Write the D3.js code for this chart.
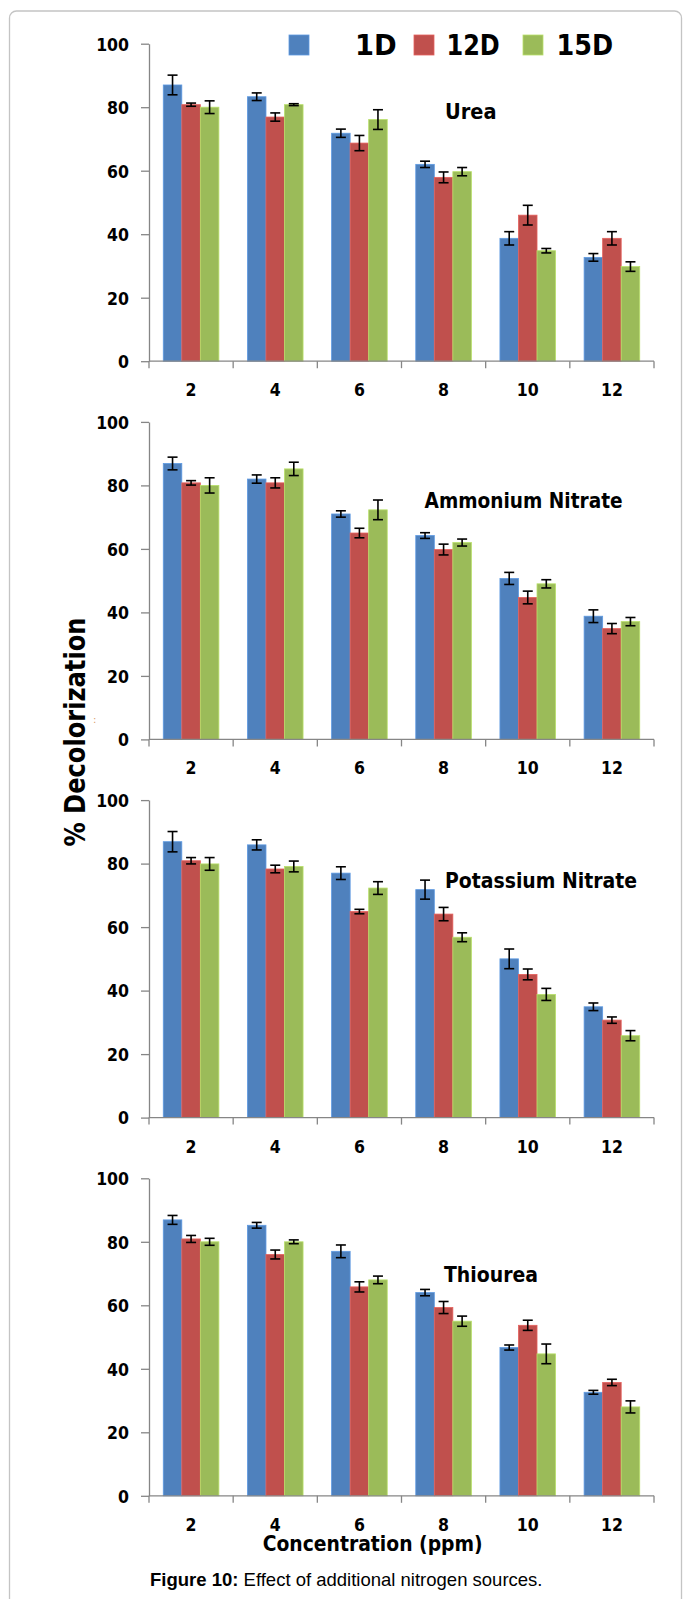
<!DOCTYPE html>
<html>
<head>
<meta charset="utf-8">
<script src="https://cdn.jsdelivr.net/npm/d3@7/dist/d3.min.js"></script>
<style>
  html, body { margin: 0; padding: 0; background: #ffffff; }
  svg { display: block; }
  .b { font-family: "DejaVu Sans Condensed", "DejaVu Sans", sans-serif; font-stretch: condensed; font-weight: bold; fill: #000; }
  .cap { font-family: "Liberation Sans", Arial, sans-serif; fill: #000; }
</style>
</head>
<body>
<script>
// ---------- data ----------
const categories = ["2", "4", "6", "8", "10", "12"];
const seriesNames = ["1D", "12D", "15D"];
const panelNames = ["Urea", "Ammonium Nitrate", "Potassium Nitrate", "Thiourea"];
const yTicks = [0, 20, 40, 60, 80, 100];

const urea1D = [87, 83.3, 71.8, 62, 38.7, 32.7];
const urea12D = [80.8, 76.9, 68.7, 57.9, 46, 38.7];
const urea15D = [80, 80.8, 76.1, 59.7, 34.8, 29.8];
const ureaErr1D = [3.1, 1.2, 1.3, 1.0, 2.1, 1.2];
const ureaErr12D = [0.5, 1.3, 2.4, 1.7, 3.1, 2.1];
const ureaErr15D = [2.0, 0.3, 3.1, 1.3, 0.7, 1.5];

const amm1D = [86.9, 82, 71, 64.2, 50.7, 38.8];
const amm12D = [80.8, 80.8, 65, 59.8, 44.7, 34.9];
const amm15D = [80, 85.2, 72.3, 62, 49, 37.1];
const ammErr1D = [2.0, 1.3, 1.0, 0.9, 1.9, 2.0];
const ammErr12D = [0.7, 1.6, 1.5, 1.7, 2.0, 1.6];
const ammErr15D = [2.4, 2.1, 3.1, 1.1, 1.3, 1.3];

const pot1D = [86.9, 85.9, 77, 71.8, 50, 34.9];
const pot12D = [80.9, 78.3, 64.9, 64.1, 45.1, 30.7];
const pot15D = [79.9, 79.1, 72.3, 56.8, 38.8, 25.8];
const potErr1D = [3.2, 1.6, 2.0, 3.0, 3.1, 1.2];
const potErr12D = [1.0, 1.2, 0.7, 2.1, 1.7, 1.0];
const potErr15D = [2.0, 1.7, 2.0, 1.4, 1.9, 1.6];

const thio1D = [86.9, 85.2, 77, 64, 46.7, 32.6];
const thio12D = [80.9, 76, 65.8, 59.3, 53.7, 35.7];
const thio15D = [80, 80, 68, 55, 44.7, 28];
const thioErr1D = [1.4, 0.9, 2.0, 1.0, 0.8, 0.6];
const thioErr12D = [1.1, 1.4, 1.6, 1.9, 1.6, 1.0];
const thioErr15D = [1.1, 0.6, 1.2, 1.6, 3.1, 1.9];

const panelValues = [
  [urea1D, urea12D, urea15D],
  [amm1D, amm12D, amm15D],
  [pot1D, pot12D, pot15D],
  [thio1D, thio12D, thio15D]
];
const panelErrors = [
  [ureaErr1D, ureaErr12D, ureaErr15D],
  [ammErr1D, ammErr12D, ammErr15D],
  [potErr1D, potErr12D, potErr15D],
  [thioErr1D, thioErr12D, thioErr15D]
];

// ---------- layout / style ----------
const W = 683, H = 1599;
const colors = ["#4f81bd", "#c0504d", "#9bbb59"];
const plotLeft = 149, plotRight = 654;
const panelTop0 = 43.7, panelStep = 378.2, panelH = 317.5;
// panel title anchor: [x pixel, y in data units, text width]
const titlePos = [[445, 76.2, 51.5], [424.6, 73.0, 198], [445, 72.2, 192], [444, 67.4, 94]];

const svg = d3.select("body").append("svg").attr("width", W).attr("height", H);

// frame
svg.append("rect")
  .attr("x", 9.5).attr("y", 11).attr("width", 672).attr("height", 1640)
  .attr("rx", 7).attr("fill", "none").attr("stroke", "#c4c4c4").attr("stroke-width", 1.3);

const x0 = d3.scaleBand().domain(categories).range([plotLeft, plotRight]).padding(0);
const x1 = d3.scaleBand().domain(seriesNames).range([0, x0.bandwidth()]).paddingInner(0).paddingOuter(0.77);

panelNames.forEach((name, pi) => {
  const top = panelTop0 + pi * panelStep;
  const y = d3.scaleLinear().domain([0, 100]).range([top + panelH, top]);
  const g = svg.append("g");

  // bars
  seriesNames.forEach((s, si) => {
    const vals = panelValues[pi][si];
    const errs = panelErrors[pi][si];
    const c = colors[si];
    const data = categories.map((cat, ci) => ({ cat, v: vals[ci], e: errs[ci] }));
    g.selectAll(null).data(data).enter().append("rect")
      .attr("x", d => x0(d.cat) + x1(s))
      .attr("y", d => y(d.v))
      .attr("width", x1.bandwidth())
      .attr("height", d => y(0) - y(d.v))
      .attr("fill", c)
      .attr("stroke", d3.color(c).brighter(0.5))
      .attr("stroke-width", 0.8);
    // error bars
    const eg = g.selectAll(null).data(data).enter().append("g")
      .attr("stroke", "#000").attr("stroke-width", 1.6);
    const cx = d => x0(d.cat) + x1(s) + x1.bandwidth() / 2;
    eg.append("line").attr("x1", cx).attr("x2", cx)
      .attr("y1", d => y(d.v + d.e)).attr("y2", d => y(d.v - d.e));
    eg.append("line").attr("x1", d => cx(d) - 5).attr("x2", d => cx(d) + 5)
      .attr("y1", d => y(d.v + d.e)).attr("y2", d => y(d.v + d.e));
    eg.append("line").attr("x1", d => cx(d) - 5).attr("x2", d => cx(d) + 5)
      .attr("y1", d => y(d.v - d.e)).attr("y2", d => y(d.v - d.e));
  });

  // y axis
  const ya = g.append("g").attr("transform", `translate(${plotLeft},0)`)
    .call(d3.axisLeft(y).tickValues(yTicks).tickSize(8).tickSizeOuter(0).tickPadding(12).tickFormat(d3.format("d")));
  ya.selectAll("path, line").attr("stroke", "#868686").attr("stroke-width", 1.3);
  ya.selectAll("text").attr("class", "b").style("font-size", "17.5px").attr("dy", "0.36em");
  ya.attr("font-family", null).attr("font-size", null);

  // x axis
  const xa = g.append("g").attr("transform", `translate(0,${y(0)})`);
  xa.append("line").attr("x1", plotLeft).attr("x2", plotRight).attr("y1", 0).attr("y2", 0)
    .attr("stroke", "#868686").attr("stroke-width", 1.3);
  const bounds = categories.map(c => x0(c)).concat([x0(categories[categories.length - 1]) + x0.bandwidth()]);
  xa.selectAll(null).data(bounds).enter().append("line")
    .attr("x1", d => d).attr("x2", d => d).attr("y1", 0).attr("y2", 7)
    .attr("stroke", "#868686").attr("stroke-width", 1.3);
  xa.selectAll(null).data(categories).enter().append("text")
    .attr("class", "b").style("font-size", "17.5px")
    .attr("text-anchor", "middle")
    .attr("x", d => x0(d) + x0.bandwidth() / 2)
    .attr("y", 35)
    .text(d => d);

  // panel title
  g.append("text").attr("class", "b").style("font-size", "21px")
    .attr("x", titlePos[pi][0]).attr("y", y(titlePos[pi][1]))
    .attr("textLength", titlePos[pi][2]).attr("lengthAdjust", "spacingAndGlyphs")
    .text(name);
});

// legend
const legendSq = [289, 414, 523];
const legendTx = [355, 446.5, 556.5];
const legendW = [41.7, 53.3, 56.6];
seriesNames.forEach((s, i) => {
  svg.append("rect").attr("x", legendSq[i]).attr("y", 35).attr("width", 20).attr("height", 20)
    .attr("fill", colors[i]).attr("stroke", d3.color(colors[i]).brighter(0.5)).attr("stroke-width", 0.8);
  svg.append("text").attr("class", "b").style("font-size", "28px")
    .attr("x", legendTx[i]).attr("y", 55)
    .attr("textLength", legendW[i]).attr("lengthAdjust", "spacingAndGlyphs")
    .text(s);
});

// y title
svg.append("text").attr("class", "b").style("font-size", "28px")
  .attr("text-anchor", "middle")
  .attr("transform", "translate(85,732) rotate(-90)")
  .attr("textLength", 229).attr("lengthAdjust", "spacingAndGlyphs")
  .text("% Decolorization");

// stray mark
svg.append("text").style("font-size", "10px").style("font-family", "DejaVu Sans")
  .attr("fill", "#d9a06a").attr("x", 93).attr("y", 723).text(":");

// x title
svg.append("text").attr("class", "b").style("font-size", "20.5px")
  .attr("x", 262.7).attr("y", 1550.7)
  .attr("textLength", 220).attr("lengthAdjust", "spacingAndGlyphs")
  .text("Concentration (ppm)");

// caption
const cap = svg.append("text").attr("class", "cap").style("font-size", "18.5px")
  .attr("x", 150).attr("y", 1586);
cap.append("tspan").style("font-weight", "bold").text("Figure 10:");
cap.append("tspan").text(" Effect of additional nitrogen sources.");
</script>
</body>
</html>
